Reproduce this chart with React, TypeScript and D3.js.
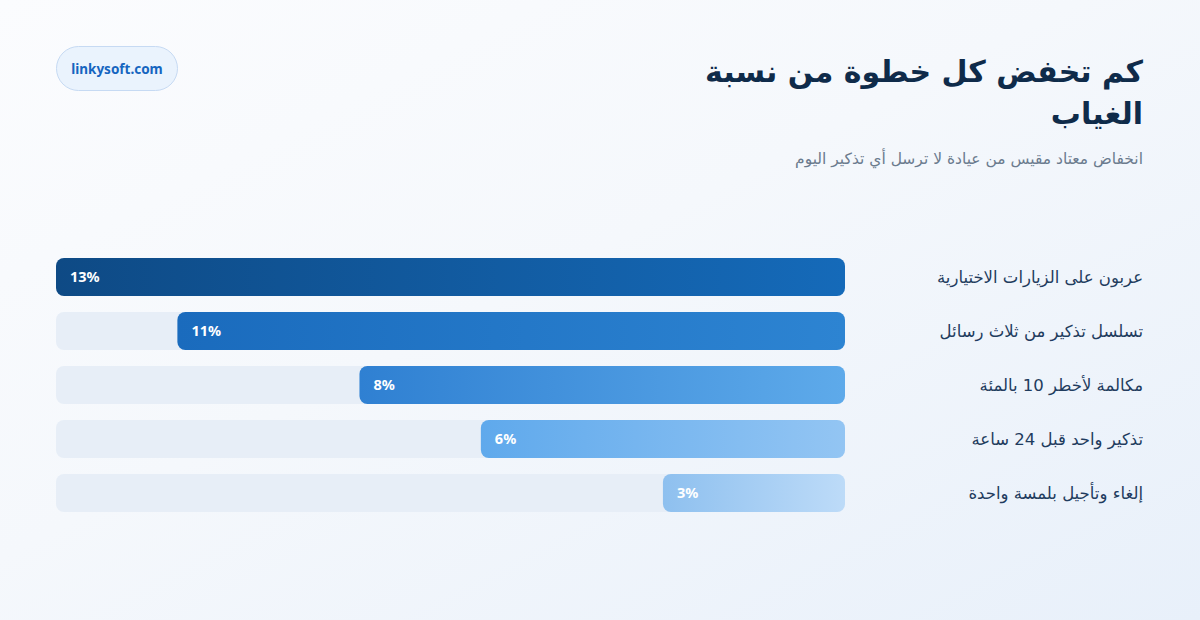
import { useEffect, useRef } from 'react';
import * as d3 from 'd3';

const categories = [
    'عربون على الزيارات الاختيارية',
    'تسلسل تذكير من ثلاث رسائل',
    'مكالمة لأخطر 10 بالمئة',
    'تذكير واحد قبل 24 ساعة',
    'إلغاء وتأجيل بلمسة واحدة',
];
const reductions = [13, 11, 8, 6, 3];
const barStartColors = ['#0e4a85', '#1a6bbd', '#2f80d2', '#5fa9ec', '#8ec0ef'];
const barEndColors = ['#156ab9', '#2d84d2', '#5eaaea', '#93c5f3', '#bddbf8'];
const titleLines = ['كم تخفض كل خطوة من نسبة', 'الغياب'];
const subtitle = 'انخفاض معتاد مقيس من عيادة لا ترسل أي تذكير اليوم';
const badgeText = 'linkysoft.com';

const ARABIC_FONT = "'DejaVu Sans', sans-serif";
const LATIN_FONT = "'Noto Sans', 'DejaVu Sans', sans-serif";

export default function App() {
    const svgRef = useRef<SVGSVGElement>(null);
    const width = 1200;
    const height = 620;

    useEffect(() => {
        if (!svgRef.current) return;
        d3.select(svgRef.current).selectAll('*').remove();

        const svg = d3.select(svgRef.current).attr('width', width).attr('height', height);
        const defs = svg.append('defs');

        // Background
        const bg = defs
            .append('linearGradient')
            .attr('id', 'bg-grad')
            .attr('x1', '0%')
            .attr('y1', '0%')
            .attr('x2', '100%')
            .attr('y2', '100%');
        bg.append('stop').attr('offset', '0%').attr('stop-color', '#fbfcfe');
        bg.append('stop').attr('offset', '45%').attr('stop-color', '#f5f8fc');
        bg.append('stop').attr('offset', '100%').attr('stop-color', '#e8f0fa');
        svg.append('rect').attr('width', width).attr('height', height).attr('fill', 'url(#bg-grad)');

        // Badge
        svg
            .append('rect')
            .attr('x', 56.5)
            .attr('y', 46.5)
            .attr('width', 121)
            .attr('height', 44)
            .attr('rx', 22)
            .attr('fill', '#eaf3fd')
            .attr('stroke', '#c6daf3')
            .attr('stroke-width', 1);
        svg
            .append('text')
            .attr('x', 117)
            .attr('y', 74)
            .attr('text-anchor', 'middle')
            .attr('font-family', LATIN_FONT)
            .attr('font-size', 13.5)
            .attr('font-weight', 700)
            .attr('fill', '#1565c0')
            .text(badgeText);

        // Title
        const title = svg
            .append('text')
            .attr('text-anchor', 'end')
            .attr('font-family', ARABIC_FONT)
            .attr('font-size', 30)
            .attr('font-weight', 700)
            .attr('fill', '#0f2b4a');
        titleLines.forEach((line, i) => {
            title
                .append('tspan')
                .attr('x', 1143)
                .attr('y', 82 + i * 42)
                .text(line);
        });

        svg
            .append('text')
            .attr('x', 1143)
            .attr('y', 164)
            .attr('text-anchor', 'end')
            .attr('font-family', ARABIC_FONT)
            .attr('font-size', 15.5)
            .attr('fill', '#6b7b8e')
            .text(subtitle);

        // Scales
        const xScale = d3.scaleLinear().domain([0, 13]).range([845, 56]);
        const yScale = d3
            .scaleBand<string>()
            .domain(categories)
            .range([258, 512])
            .paddingInner(16 / 54)
            .paddingOuter(0);

        const data = categories.map((c, i) => ({
            category: c,
            value: reductions[i],
            start: barStartColors[i],
            end: barEndColors[i],
            id: `bar-grad-${i}`,
        }));

        data.forEach((d) => {
            const g = defs
                .append('linearGradient')
                .attr('id', d.id)
                .attr('x1', '0%')
                .attr('x2', '100%')
                .attr('y1', '0%')
                .attr('y2', '0%');
            g.append('stop').attr('offset', '0%').attr('stop-color', d.start);
            g.append('stop').attr('offset', '100%').attr('stop-color', d.end);
        });

        // Tracks
        svg
            .selectAll('.track')
            .data(data)
            .enter()
            .append('rect')
            .attr('class', 'track')
            .attr('x', xScale(13))
            .attr('y', (d) => yScale(d.category)!)
            .attr('width', xScale(0) - xScale(13))
            .attr('height', yScale.bandwidth())
            .attr('rx', 8)
            .attr('fill', '#e7eef7');

        // Bars
        svg
            .selectAll('.bar')
            .data(data)
            .enter()
            .append('rect')
            .attr('class', 'bar')
            .attr('x', (d) => xScale(d.value))
            .attr('y', (d) => yScale(d.category)!)
            .attr('width', (d) => xScale(0) - xScale(d.value))
            .attr('height', yScale.bandwidth())
            .attr('rx', 8)
            .attr('fill', (d) => `url(#${d.id})`);

        // Value labels
        svg
            .selectAll('.value-label')
            .data(data)
            .enter()
            .append('text')
            .attr('class', 'value-label')
            .attr('x', (d) => xScale(d.value) + 14)
            .attr('y', (d) => yScale(d.category)! + yScale.bandwidth() / 2)
            .attr('dy', '.35em')
            .attr('font-family', LATIN_FONT)
            .attr('font-size', 14.5)
            .attr('font-weight', 700)
            .attr('fill', '#ffffff')
            .text((d) => `${d.value}%`);

        // Category labels
        svg
            .selectAll('.cat-label')
            .data(data)
            .enter()
            .append('text')
            .attr('class', 'cat-label')
            .attr('x', 1143)
            .attr('y', (d) => yScale(d.category)! + yScale.bandwidth() / 2)
            .attr('dy', '.35em')
            .attr('text-anchor', 'end')
            .attr('font-family', ARABIC_FONT)
            .attr('font-size', 16.5)
            .attr('fill', '#1f3c5e')
            .text((d) => d.category);
    }, []);

    return (
        <div style={{ position: 'fixed', left: 0, top: 0 }}>
            <svg ref={svgRef} style={{ display: 'block' }}></svg>
        </div>
    );
}
